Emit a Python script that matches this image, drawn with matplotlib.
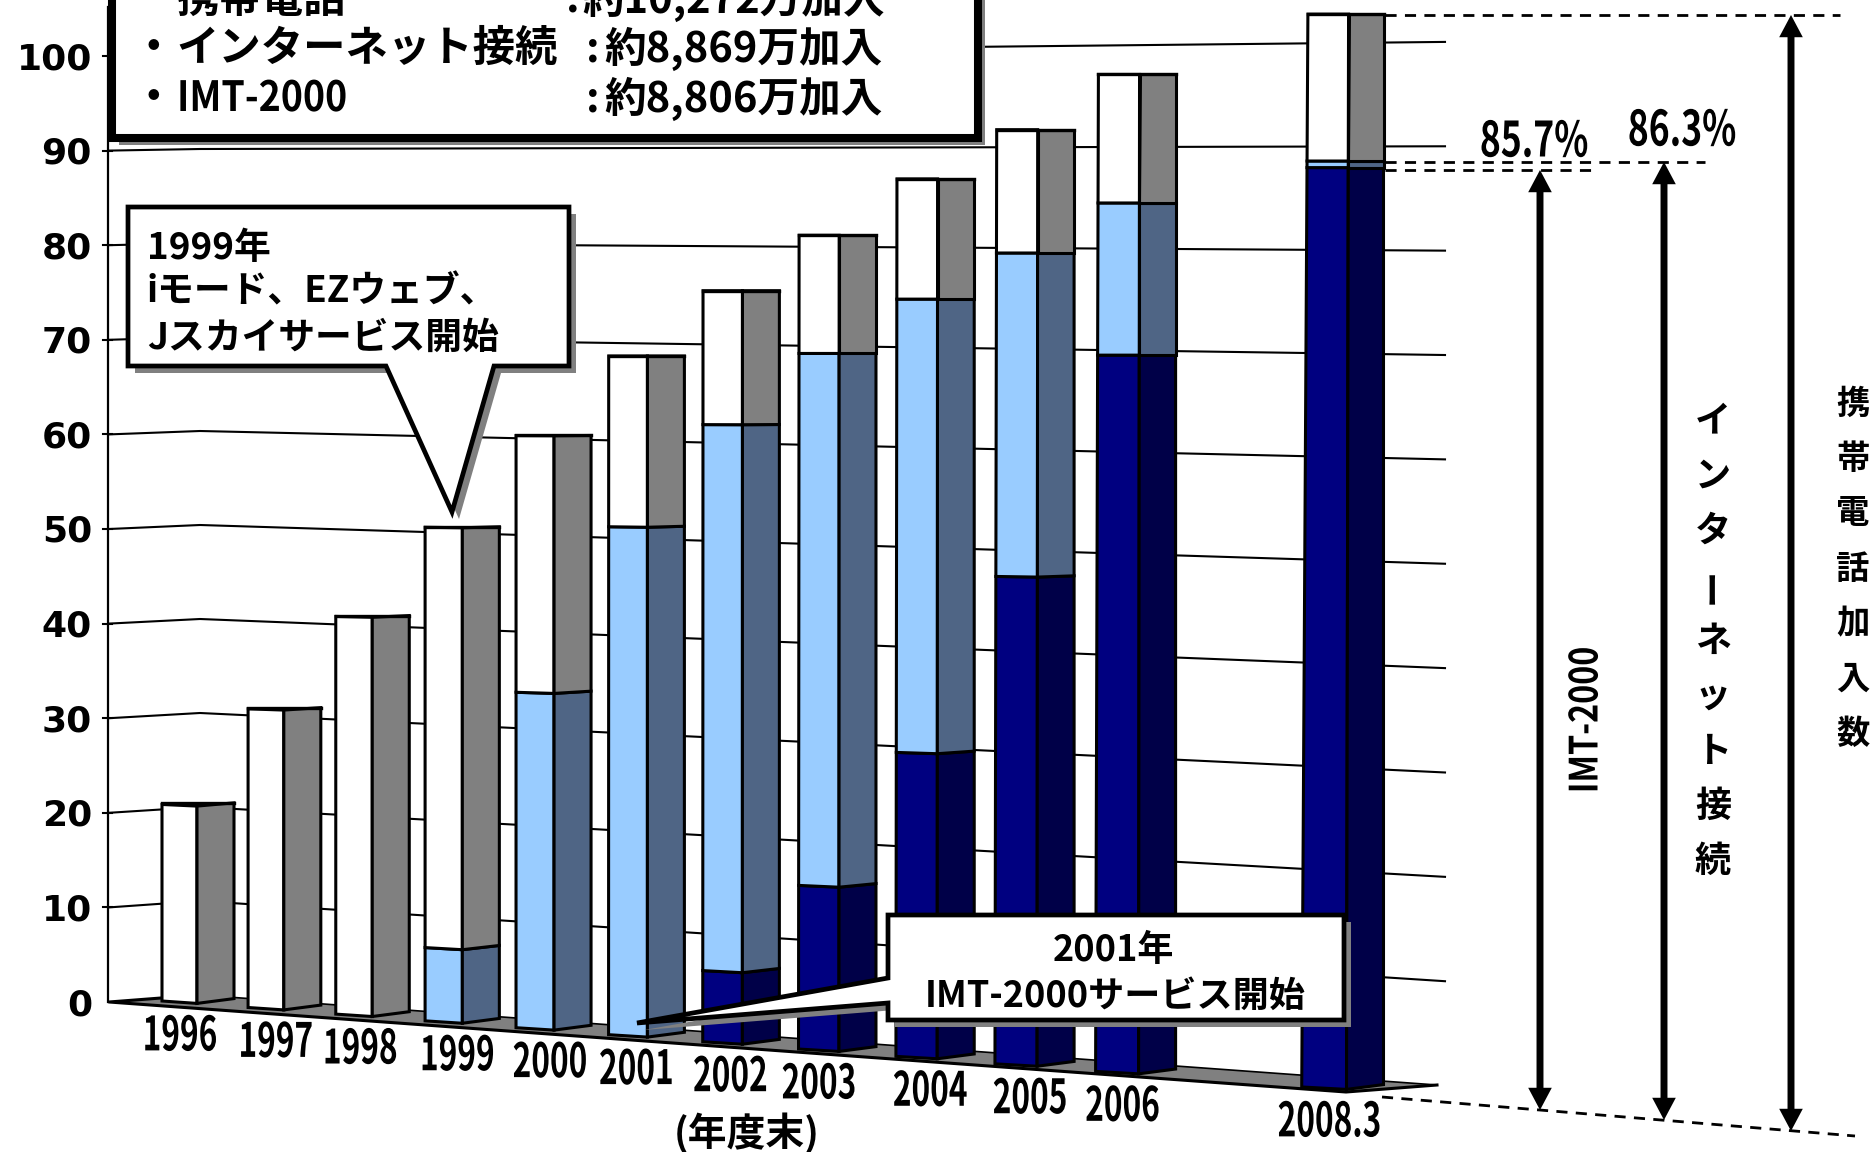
import matplotlib
matplotlib.use('Agg')
import matplotlib.pyplot as plt
from matplotlib.patheffects import AbstractPathEffect
from matplotlib.transforms import Affine2D

# Japanese mobile subscribers, in millions
years = ['1996', '1997', '1998', '1999', '2000', '2001', '2002', '2003', '2004', '2005', '2006', '2008.3']
phones = [20.9, 31.5, 41.6, 51.2, 60.9, 69.2, 75.9, 81.5, 87.1, 91.9, 97.2, 102.72]
internet = [0, 0, 0, 7.6, 34.5, 51.8, 62.4, 69.7, 75.2, 79.8, 84.7, 88.69]
imt2000 = [0, 0, 0, 0, 0, 0, 7.2, 16.4, 30.2, 48.0, 69.9, 88.06]
y_ticks = [0, 10, 20, 30, 40, 50, 60, 70, 80, 90, 100]

summary_names = ['携帯電話', 'インターネット接続', 'IMT-2000']
summary_values = ['約10,272万加入', '約8,869万加入', '約8,806万加入']
share_labels = ['85.7%', '86.3%']

# small layout shift of each year label against its bar
label_dx = [-17, -8, -12, -5, -4, -11, -12, -20, -7, -7, -16, -17]

JP = ['Noto Sans CJK JP', 'DejaVu Sans']
GREY = '#808080'

fig = plt.figure(figsize=(18.73, 11.52), dpi=100)
ax = fig.add_axes([0, 0, 1, 1])
ax.set_xlim(0, 1873)
ax.set_ylim(1152, 0)
ax.axis('off')
renderer = fig.canvas.get_renderer()


class Squeeze(AbstractPathEffect):
    # the original font is tall and narrow, nothing installed is
    def __init__(self, sx):
        super().__init__()
        self.sx = sx

    def draw_path(self, renderer, gc, tpath, affine, rgbFace=None):
        renderer.draw_path(gc, tpath, Affine2D().scale(self.sx, 1) + affine, rgbFace)


def narrow_text(x, y, s, size, sx, rotated=False, zorder=7):
    # x, y is the centre of the squeezed text
    t = ax.text(x, y, s, ha='left', va='center', fontsize=size, fontweight='bold', family=JP,
                rotation=90 if rotated else 0, rotation_mode='anchor', zorder=zorder)
    t.set_path_effects([Squeeze(sx)])
    box = t.get_window_extent(renderer)
    if rotated:
        t.set_y(y + box.height * sx / 2)
    else:
        t.set_x(x - box.width * sx / 2)
    return t


# the chart is a fake 3D one, so values go through a little perspective
def wall_y(x, v):
    t = (x - 200) / (1437 - 200)
    return (995 + 90 * t) - v * (9.4 + 1.03 * t)


def side_y(v):
    return 1002 - 9.46 * v


def split_x(slot):
    return 197 + 86 * slot + 0.816 * slot ** 2


def bar_corners(slot, v):
    mid = split_x(slot)
    left = mid - (35 + 0.0085 * (mid - 197))
    right = mid + 37
    base = 1003.4 + 0.0748 * (mid - 197)
    scale = 9.44 + 0.000894 * (mid - 197)
    top = base - v * scale
    fade = max(0, 1 - v / 65)
    lean = 6 * (v / 100) * (slot / 12) ** 4
    return [(left + lean, top - 2.4 * fade), (mid + lean / 3, top), (right, top - 4.8 * fade)]


def face(slot, v0, v1, i, color):
    a = bar_corners(slot, v0)
    b = bar_corners(slot, v1)
    xs = [a[i][0], a[i + 1][0], b[i + 1][0], b[i][0]]
    ys = [a[i][1], a[i + 1][1], b[i + 1][1], b[i][1]]
    ax.fill(xs, ys, facecolor=color, edgecolor='black', lw=2.2, joinstyle='miter', zorder=3)


# wall grid and axis, the grid bends where side wall meets back wall
for v in y_ticks[1:]:
    ax.plot([109, 200, 1445], [side_y(v), wall_y(200, v), wall_y(1445, v)], color='black', lw=1.5, zorder=1)
    ax.plot([103, 112], [side_y(v)] * 2, color='black', lw=1.5, zorder=1)
for v in y_ticks:
    ax.text(92, side_y(v) + 3, str(v), ha='right', va='center', fontsize=26,
            fontweight='bold', family='DejaVu Sans', zorder=8)
ax.plot([108, 108], [7, 1002], color='black', lw=1.6, zorder=2)

# floor
ax.fill([109, 200, 1437, 1346], [1002, 995, 1085, 1092], facecolor=GREY, edgecolor='none', zorder=2)
ax.plot([200, 109, 1346, 1437], [995, 1002, 1092, 1085], color='black', lw=2.2, zorder=2)
ax.plot([200, 1437], [995, 1085], color='black', lw=1.2, zorder=2)

# bars
for n, year in enumerate(years):
    slot = int(year[:4]) - 1996
    levels = [(0, imt2000[n], '#000080', '#000048'),
              (imt2000[n], internet[n], '#99CCFF', '#4F6585'),
              (max(imt2000[n], internet[n]), phones[n], 'white', GREY)]
    for v0, v1, front, side in levels:
        if v1 > v0:
            face(slot, v0, v1, 0, front)
            face(slot, v0, v1, 1, side)
    cap = bar_corners(slot, phones[n])
    ax.plot([cap[0][0], cap[2][0]], [min(cap[0][1], cap[2][1])] * 2, color='black', lw=2.4, zorder=3)
    narrow_text(split_x(slot) + label_dx[n], 1003.4 + 0.0748 * (split_x(slot) - 197) + 33, year,
                34, 0.67, zorder=4)

ax.text(747, 1134, '(年度末)', ha='center', va='center', fontsize=28, fontweight='bold', family=JP)


def callout(xs, ys, lw):
    ax.fill([x + 7 for x in xs], [y + 7 for y in ys], facecolor=GREY, edgecolor='none', zorder=5)
    ax.fill(xs, ys, facecolor='white', edgecolor='black', lw=lw, joinstyle='miter', zorder=6)


# summary box, cut off by the top of the picture
callout([112, 978, 978, 112], [-30, -30, 138, 138], 5.8)
for name, value, y, colon_x, value_x in zip(summary_names, summary_values, [0, 49, 99],
                                            [566, 586, 586], [582, 604, 604]):
    # first bullet sits above the picture edge in the original
    ax.text(153, y if y > 0 else -12, '・', ha='center', va='center', fontsize=30, fontweight='bold',
            family=JP, zorder=7)
    if name.startswith('IMT'):
        narrow_text(262, y, name, 30, 0.9)
    else:
        ax.text(176, y, name, ha='left', va='center', fontsize=30.5, fontweight='bold', family=JP, zorder=7)
    ax.text(colon_x, y, ':', ha='left', va='center', fontsize=30, fontweight='bold', family=JP, zorder=7)
    ax.text(value_x, y, value, ha='left', va='center', fontsize=30, fontweight='bold', family=JP, zorder=7)

# 1999 callout
callout([128, 569, 569, 494, 452, 386, 128], [207, 207, 366, 366, 512, 366, 366], 3.4)
for line, y in zip(['1999年', 'iモード、EZウェブ、', 'Jスカイサービス開始'], [248, 292, 338]):
    ax.text(147, y, line, ha='left', va='center', fontsize=26.5, fontweight='bold', family=JP, zorder=7)

# 2001 callout
callout([888, 1344, 1344, 888, 888, 637, 888], [915, 915, 1020, 1020, 1003, 1023, 978], 3.4)
ax.text(1114, 950, '2001年', ha='center', va='center', fontsize=26, fontweight='bold', family=JP, zorder=7)
ax.text(1115, 996, 'IMT-2000サービス開始', ha='center', va='center', fontsize=26, fontweight='bold', family=JP, zorder=7)

# dashed guides on the right
dash = dict(color='black', lw=2, dashes=(4, 3), zorder=4)
ax.plot([1385, 1840], [15, 15], **dash)
ax.plot([1385, 1705], [162, 162], **dash)
ax.plot([1385, 1598], [170, 170], **dash)
ax.plot([1382, 1855], [1097, 1136], **dash)


def double_arrow(x, top, bottom):
    mid = (top + bottom) / 2
    for end in (top, bottom):
        ax.annotate('', xy=(x, end), xytext=(x, mid), zorder=5,
                    arrowprops=dict(width=5, headwidth=17, headlength=16, shrink=0,
                                    facecolor='black', edgecolor='none'))


double_arrow(1540, 170, 1110)
double_arrow(1664, 162, 1120)
double_arrow(1791, 15, 1131)

narrow_text(1534, 142, share_labels[0], 35, 0.73)
narrow_text(1682, 131, share_labels[1], 35, 0.73)
narrow_text(1586, 720, 'IMT-2000', 28, 0.83, rotated=True)

# vertical labels, one character at a time
for i, ch in enumerate('インターネット接続'):
    ax.text(1713, 421 + 55 * i, ch, ha='center', va='center', fontsize=26, fontweight='bold', family=JP,
            rotation=90 if ch == 'ー' else 0)
for i, ch in enumerate('携帯電話加入数'):
    ax.text(1853, 404 + 55 * i, ch, ha='center', va='center', fontsize=24, fontweight='bold', family=JP)

fig.savefig('out.png', dpi=100)
